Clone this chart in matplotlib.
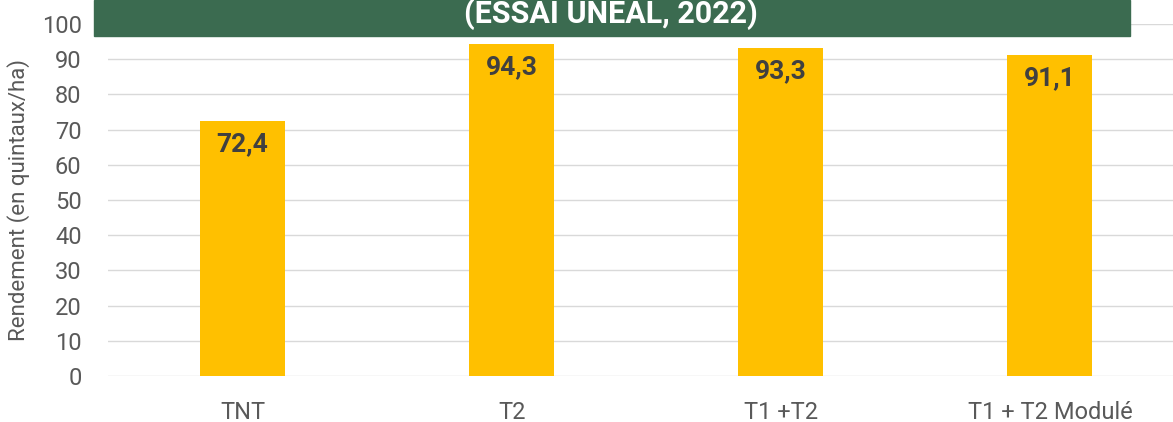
import matplotlib
matplotlib.use("Agg")
import matplotlib.pyplot as plt
from matplotlib.patches import Rectangle

# --- data ---
categories = ["TNT", "T2", "T1 +T2", "T1 + T2 Modulé"]
rendement = [72.4, 94.3, 93.3, 91.1]
labels = ["72,4", "94,3", "93,3", "91,1"]
yticks = list(range(0, 101, 10))

plt.rcParams['font.family'] = ['Roboto', 'DejaVu Sans']

W, H = 1173, 422
fig = plt.figure(figsize=(W / 100, H / 100), dpi=100)

# axes placed in pixel terms: x from 108 to 1173, y=0 at 376px, y=100 at 24px
left, right = 108 / W, 1.0
bottom, top = (H - 376) / H, (H - 24) / H
ax = fig.add_axes([left, bottom, right - left, top - bottom])

bar_color = '#FFC000'
ax.bar(range(len(categories)), rendement, width=0.316, color=bar_color, zorder=3)

for i, (v, lab) in enumerate(zip(rendement, labels)):
    ax.text(i, v - 3.2, lab, ha='center', va='top', fontsize=19,
            fontweight='bold', color='#404040', zorder=4)

ax.set_xlim(-0.5, -0.5 + (W - 108.5) / 269)
ax.set_ylim(0, 100)
ax.set_yticks(yticks)
ax.set_xticks(range(len(categories)))
ax.set_xticklabels(categories)
ax.tick_params(axis='both', length=0, labelsize=17, labelcolor='#595959')
ax.tick_params(axis='x', pad=18)
ax.tick_params(axis='y', pad=19)

ax.grid(axis='y', color='#D9D9D9', linewidth=1, zorder=0)
for s in ax.spines.values():
    s.set_visible(False)

ax.set_ylabel('Rendement (en quintaux/ha)', fontsize=16, color='#595959', labelpad=8)

# green banner with title partially cropped at the top
fig.patches.append(Rectangle((94 / W, (H - 36) / H), (1130 - 94) / W, 36 / H,
                             transform=fig.transFigure, color='#3B6B50', zorder=5))
fig.text(611 / W, (H - 14) / H, '(ESSAI UNEAL, 2022)', ha='center', va='center',
         fontsize=22, fontweight='bold', color='white', zorder=6)

fig.savefig('out.png', dpi=100)
